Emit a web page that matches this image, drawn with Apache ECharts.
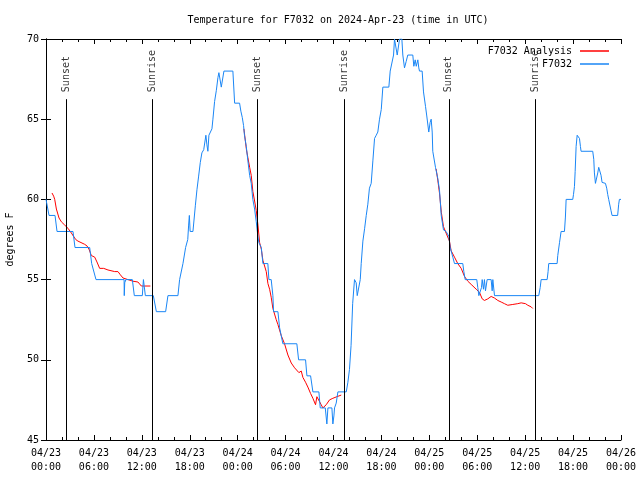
<!DOCTYPE html>
<html><head><meta charset="utf-8">
<script src="https://cdn.jsdelivr.net/npm/echarts@6/dist/echarts.min.js"></script>
<style>html,body{margin:0;padding:0;background:#fff}#c{width:640px;height:480px}</style>
</head><body><div id="c"></div>
<script>
// x values are hours since 2024-04-23 00:00 UTC
var xTickHours = [0,6,12,18,24,30,36,42,48,54,60,66,72];
var dayLabels = ['04/23','04/24','04/25','04/26'];
var yTicks = [45,50,55,60,65,70];
var sunsetHours = [2.53, 26.41, 50.44];
var sunriseHours = [13.3, 37.32, 61.25];
var markerTopTemp = 66.25;

var f7032 = [
[0,60],[0.13,60],[0.38,59],[1.13,59],[1.38,58],[3.38,58],[3.63,57],[5.47,57],[5.72,56],[5.97,56],[6.26,55],
[9.78,55],[9.8,54],[9.86,54.8],[10.0,55],[10.81,55],[11.06,54],[12.06,54],[12.2,55],[12.3,55],[12.44,54],[13.44,54],
[13.82,53],[14.98,53],[15.27,54],[16.52,54],[16.73,55],[16.95,55],[17.15,56],[17.48,57],[17.75,57.5],[17.86,58.4],
[17.95,59],[18.05,58],[18.4,58],[18.7,59.6],[18.9,60.6],[19.1,61.4],[19.32,62.3],[19.52,62.9],[19.75,63.1],[20.02,64],
[20.15,63.4],[20.27,63],[20.4,64],[20.6,64],[20.78,64.4],[20.9,65],[21.11,66.1],[21.33,66.8],[21.53,67.6],[21.65,67.9],
[21.74,68],[21.88,68],[21.95,67],[22.15,67],[22.28,68],[23.4,68],[23.62,66],[24.24,66],[24.4,65.5],[24.58,65.1],
[24.74,64.6],[24.85,64],[25.08,63.3],[25.28,62.4],[25.5,61.5],[25.7,61],[25.9,60],[26.12,59.4],[26.33,58.6],[26.53,57.7],
[26.66,57.3],[26.96,57],[27.16,56],[27.78,56],[27.91,55],[28.2,55],[28.41,54],[28.5,53],[29.04,53],[29.25,52],[29.46,52],
[29.66,51],[31.41,51],[31.63,50],[32.5,50],[32.67,49],[33.13,49],[33.42,48],[34.17,48],[34.34,47],[34.97,47],[35.17,46],
[35.3,47],[35.8,47],[35.92,46],[36.05,46.5],[36.13,47],[36.34,47.3],[36.55,48],[37.6,48],[37.8,48.6],[38.0,49.4],
[38.2,50.9],[38.4,53.5],[38.63,55],[38.84,54.8],[38.97,54],[39.18,54],[39.35,55],[39.47,56],[39.68,57.4],[39.9,58.2],
[40.1,59],[40.3,59.7],[40.5,60.7],[40.72,61],[40.93,62.4],[41.14,63.8],[41.35,64],[41.55,64.2],[41.76,65],[41.98,65.6],
[42.18,67],[42.93,67],[43.1,68],[43.35,68],[43.52,69],[43.64,70],[43.85,70],[43.98,69],[44.18,69],[44.27,70],[44.56,70],
[44.68,69],[44.89,68.2],[45.1,68.6],[45.3,69],[45.93,69],[46.06,68.3],[46.23,68.7],[46.36,68.3],[46.56,68.7],[46.68,68.2],
[46.77,68],[47.1,68],[47.27,66.7],[47.52,65.8],[47.68,65.2],[47.93,64.2],[48.1,64.8],[48.23,65],[48.36,64.2],[48.43,63],
[48.77,62],[48.94,61.9],[49.06,61.3],[49.27,60.6],[49.49,59],[49.77,58.1],[50.1,58],[50.44,57.7],[50.61,57],[50.86,57],
[50.94,56.4],[51.15,56],[52.19,56],[52.32,55.5],[52.49,55],[53.94,55],[54.07,54.5],[54.2,54],[54.4,54],[54.53,54.5],
[54.62,55],[54.7,55],[54.78,54.4],[54.9,55],[55.03,54.3],[55.24,55],[55.74,55],[55.87,54.3],[55.95,55],[56.16,54],
[61.7,54],[61.88,54.5],[62.0,55],[62.75,55],[62.87,55.5],[62.95,56],[64.0,56],[64.08,56.5],[64.3,57.3],[64.5,58],
[64.92,58],[65.04,58.9],[65.13,60],[65.96,60],[66.05,60.3],[66.17,60.8],[66.26,61.75],[66.38,63.3],[66.51,64],[66.67,64],
[66.8,63.8],[66.92,63.3],[67.0,63],[68.46,63],[68.59,62.5],[68.67,61.65],[68.8,61],[68.96,61],[69.09,61.65],[69.21,62],
[69.42,62],[69.5,61.5],[69.63,61.06],[70.05,61],[70.21,60.7],[70.34,60.3],[70.46,60],[70.63,59.9],[70.75,59.3],[70.88,59],
[71.58,59],[71.71,59.7],[71.8,60],[72,60]
];

var analysisA = [
[0.75,60.4],[0.96,60.2],[1.09,60.0],[1.3,59.4],[1.63,58.84],[1.93,58.6],[2.34,58.4],[2.75,58.2],[3.18,57.9],[3.72,57.5],
[4.0,57.4],[4.84,57.2],[5.13,57.1],[5.38,56.9],[5.68,56.5],[6.1,56.4],[6.38,56.1],[6.72,55.7],[7.22,55.7],[7.76,55.6],
[8.6,55.5],[9.01,55.5],[9.31,55.3],[9.64,55.1],[10.26,55.0],[10.89,54.9],[11.51,54.85],[11.94,54.6],[12.35,54.6],[13.07,54.6]
];
var analysisB = [
[24.78,64.4],[24.95,63.7],[25.1,63.1],[25.28,62.6],[25.5,62.0],[25.7,61.5],[25.9,60.5],[26.12,59.9],[26.33,59.3],[26.54,58.4],
[26.75,57.3],[26.96,56.9],[27.16,56.2],[27.58,55.5],[27.79,54.75],[28.0,54.4],[28.2,53.9],[28.41,53.2],[28.83,52.5],[29.04,52.2],
[29.46,51.5],[29.87,51.0],[30.29,50.3],[30.71,49.8],[31.13,49.5],[31.67,49.2],[31.96,49.3],[32.17,48.9],[32.5,48.6],[32.79,48.3],
[33.13,47.9],[33.42,47.6],[33.75,47.2],[33.92,47.7],[34.17,47.6],[34.46,47.2],[34.67,47.0],[35.09,47.2],[35.5,47.5],[35.92,47.6],
[36.42,47.7],[36.97,47.8]
];
var analysisC = [
[48.85,61.9],[49.06,61.2],[49.27,60.4],[49.5,59.2],[49.77,58.3],[50.1,57.9],[50.52,57.4],[50.73,56.8],[51.15,56.4],[51.56,56.0],
[51.99,55.7],[52.4,55.2],[52.82,54.9],[53.24,54.7],[53.87,54.4],[54.28,54.2],[54.62,53.8],[54.9,53.7],[55.32,53.8],[55.74,53.95],
[56.16,53.85],[56.57,53.7],[57.0,53.6],[57.41,53.5],[57.82,53.4],[58.45,53.45],[59.07,53.5],[59.5,53.55],[60.04,53.5],[60.33,53.4],
[60.75,53.3],[60.95,53.2]
];

var FONT = 'DejaVu Sans Mono';
var RED = '#ff0000', BLUE = '#1a86f5';

function fmtX(v){
  var d = Math.floor(v/24), h = v - d*24;
  return dayLabels[d] + '\n' + (h<10?'0':'') + h + ':00';
}

var markLines = [], markLabels = [];
sunsetHours.forEach(function(t){ markLines.push([{coord:[t,45]},{coord:[t,markerTopTemp]}]); markLabels.push([t,markerTopTemp,'Sunset']); });
sunriseHours.forEach(function(t){ markLines.push([{coord:[t,45]},{coord:[t,markerTopTemp]}]); markLabels.push([t,markerTopTemp,'Sunrise']); });

var txt = {fontFamily:FONT, fontSize:10, color:'#000'};
function redSeries(d){
  return {type:'line', name:'F7032 Analysis', data:d, showSymbol:false, symbol:'none',
    lineStyle:{color:RED,width:1}, itemStyle:{color:RED}, z:2};
}

var chart = echarts.init(document.getElementById('c'), null, {renderer:'canvas'});
chart.setOption({
  animation:false,
  backgroundColor:'#fff',
  title:{text:'Temperature for F7032 on 2024-Apr-23 (time in UTC)', left:333, top:10, textAlign:'center',
    textStyle:{fontFamily:FONT, fontSize:10, fontWeight:'normal', color:'#000'}},
  grid:{left:46, right:19, top:39, bottom:40, containLabel:false, outerBoundsMode:'none'},
  legend:[
    {data:['F7032 Analysis'], right:26, top:41, align:'right', icon:'rect', itemWidth:29, itemHeight:1.5,
     textStyle:{fontFamily:FONT, fontSize:10, color:'#000', padding:[0,3,0,0]}},
    {data:['F7032'], right:26, top:54, align:'right', icon:'rect', itemWidth:29, itemHeight:1.5,
     textStyle:{fontFamily:FONT, fontSize:10, color:'#000', padding:[0,3,0,0]}}
  ],
  xAxis:[
    {type:'value', min:0, max:72, interval:6, position:'bottom',
     axisLine:{lineStyle:{color:'#000',width:1}},
     axisTick:{inside:true, length:5, lineStyle:{color:'#000'}},
     minorTick:{show:true, splitNumber:3, length:3, lineStyle:{color:'#000'}},
     splitLine:{show:false},
     axisLabel:Object.assign({formatter:fmtX, margin:6, lineHeight:14}, txt)},
    {type:'value', min:0, max:72, interval:6, position:'top',
     axisLine:{lineStyle:{color:'#000',width:1}},
     axisTick:{inside:true, length:5, lineStyle:{color:'#000'}},
     minorTick:{show:true, splitNumber:3, length:3, lineStyle:{color:'#000'}},
     splitLine:{show:false}, axisLabel:{show:false}}
  ],
  yAxis:[
    {type:'value', min:45, max:70, interval:5, position:'left',
     name:'degrees F', nameLocation:'middle', nameGap:31, nameRotate:90,
     nameTextStyle:{fontFamily:FONT, fontSize:10, color:'#000'},
     axisLine:{show:true, lineStyle:{color:'#000',width:1}},
     axisTick:{show:true, inside:true, length:5, lineStyle:{color:'#000'}},
     splitLine:{show:false},
     axisLabel:Object.assign({margin:7}, txt)},
    {type:'value', min:45, max:70, interval:5, position:'right',
     axisLine:{show:true, lineStyle:{color:'#000',width:1}},
     axisTick:{show:true, inside:true, length:5, lineStyle:{color:'#000'}},
     splitLine:{show:false}, axisLabel:{show:false}}
  ],
  series:[
    redSeries(analysisA), redSeries(analysisB), redSeries(analysisC),
    {type:'line', name:'F7032', data:f7032, showSymbol:false, symbol:'none',
     lineStyle:{color:BLUE,width:1}, itemStyle:{color:BLUE}, z:3,
     markLine:{silent:true, symbol:['none','none'], animation:false,
       lineStyle:{color:'#000', width:1, type:'solid'}, label:{show:false},
       emphasis:{disabled:true}, data:markLines, z:5}},
    {type:'scatter', name:'markers', data:markLabels, symbolSize:0, silent:true, z:6,
     label:{show:true, formatter:function(p){return p.data[2];}, position:'top', distance:7,
       rotate:90, align:'left', verticalAlign:'middle',
       fontFamily:FONT, fontSize:10, color:'#000'}}
  ]
});
</script></body></html>
